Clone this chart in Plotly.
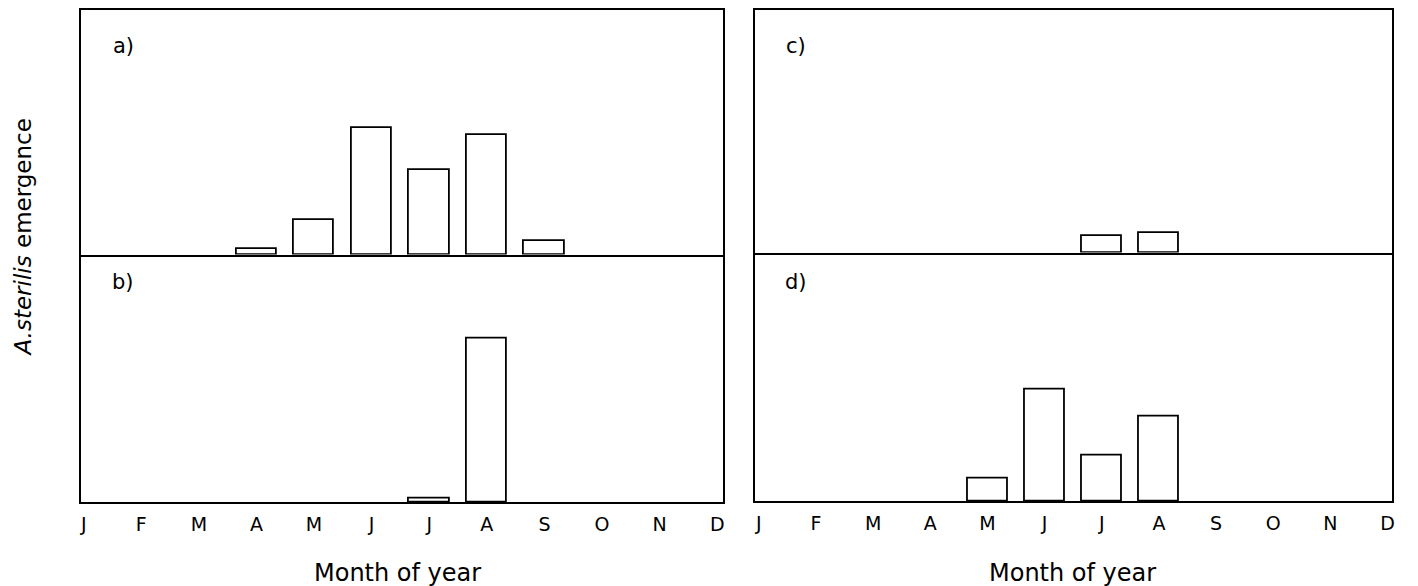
import plotly.graph_objects as go

months = ["J", "F", "M", "A", "M", "J", "J", "A", "S", "O", "N", "D"]
month_idx = list(range(12))

# emergence (arbitrary units)
emerg_a = [0, 0, 0, 6, 35, 127, 85, 120, 14, 0, 0, 0]
emerg_b = [0, 0, 0, 0, 0, 0, 4, 163, 0, 0, 0, 0]
emerg_c = [0, 0, 0, 0, 0, 0, 17, 20, 0, 0, 0, 0]
emerg_d = [0, 0, 0, 0, 22, 110, 45, 84, 0, 0, 0, 0]

panel_labels = ["a)", "b)", "c)", "d)"]

# page body has an 8px margin: figure is shifted by OFF
OFF = 8
W, H = 1418 - OFF, 586 - OFF
FONT = "DejaVu Sans"

def px(x):
    return (x - OFF) / W

def py(y):
    return 1 - (y - OFF) / H

fig = go.Figure()

series = [emerg_a, emerg_b, emerg_c, emerg_d]
axes = [("x", "y"), ("x2", "y2"), ("x3", "y3"), ("x4", "y4")]
for vals, (xa, ya) in zip(series, axes):
    xs = [m for m, v in zip(month_idx, vals) if v > 0]
    ys = [v for v in vals if v > 0]
    fig.add_trace(go.Bar(
        x=xs, y=ys, xaxis=xa, yaxis=ya, width=0.7,
        marker=dict(color="white", line=dict(color="black", width=1.8)),
        showlegend=False, hoverinfo="skip"))

xl = [px(80), px(724)]
xr = [px(756), px(1395)]
yl_top = [py(254), py(9)]
yl_bot = [py(502), py(254)]
yr_top = [py(252), py(9)]
yr_bot = [py(501), py(252)]

base = dict(showline=True, linecolor="black", linewidth=2,
            showgrid=False, zeroline=False, ticks="")
xrange_l = [-0.05, 11.1]
xrange_r = [-0.07, 11.08]
yrange_l = [0, 246]
yrange_r = [0, 246]

tickfont = dict(family=FONT, size=19, color="black")

fig.update_layout(
    width=W, height=H,
    margin=dict(l=0, r=0, t=0, b=0),
    paper_bgcolor="white", plot_bgcolor="white",
    bargap=0,
    xaxis=dict(domain=xl, range=xrange_l, anchor="y", showticklabels=False, mirror=True, **base),
    yaxis=dict(domain=yl_top, range=yrange_l, anchor="x", showticklabels=False, mirror=True, **base),
    xaxis2=dict(domain=xl, range=xrange_l, anchor="y2", tickvals=month_idx,
                ticktext=months, tickfont=tickfont, ticklabelstandoff=4, mirror=False, **base),
    yaxis2=dict(domain=yl_bot, range=yrange_l, anchor="x2", showticklabels=False, mirror=True, **base),
    xaxis3=dict(domain=xr, range=xrange_r, anchor="y3", showticklabels=False, mirror=True, **base),
    yaxis3=dict(domain=yr_top, range=yrange_r, anchor="x3", showticklabels=False, mirror=True, **base),
    xaxis4=dict(domain=xr, range=xrange_r, anchor="y4", tickvals=month_idx,
                ticktext=months, tickfont=tickfont, ticklabelstandoff=4, mirror=False, **base),
    yaxis4=dict(domain=yr_bot, range=yrange_r, anchor="x4", showticklabels=False, mirror=True, **base),
)

ann = []
label_pos = [(123, 45), (122, 281), (797, 45), (797, 281)]
for lab, (x, y) in zip(panel_labels, label_pos):
    ann.append(dict(x=px(x), y=py(y), xref="paper", yref="paper", text=lab,
                    showarrow=False, xanchor="center", yanchor="middle",
                    font=dict(family=FONT, size=21, color="black")))
for cx in (398, 1075):
    ann.append(dict(x=px(cx), y=py(573), xref="paper", yref="paper",
                    text="Month of year", showarrow=False,
                    xanchor="center", yanchor="middle",
                    font=dict(family=FONT, size=24, color="black")))
ann.append(dict(x=px(22), y=py(237), xref="paper", yref="paper",
                text="<i>A.sterilis</i> emergence", textangle=-90,
                showarrow=False, xanchor="center", yanchor="middle",
                font=dict(family=FONT, size=23, color="black")))
fig.update_layout(annotations=ann)

fig.write_html("out.html")
